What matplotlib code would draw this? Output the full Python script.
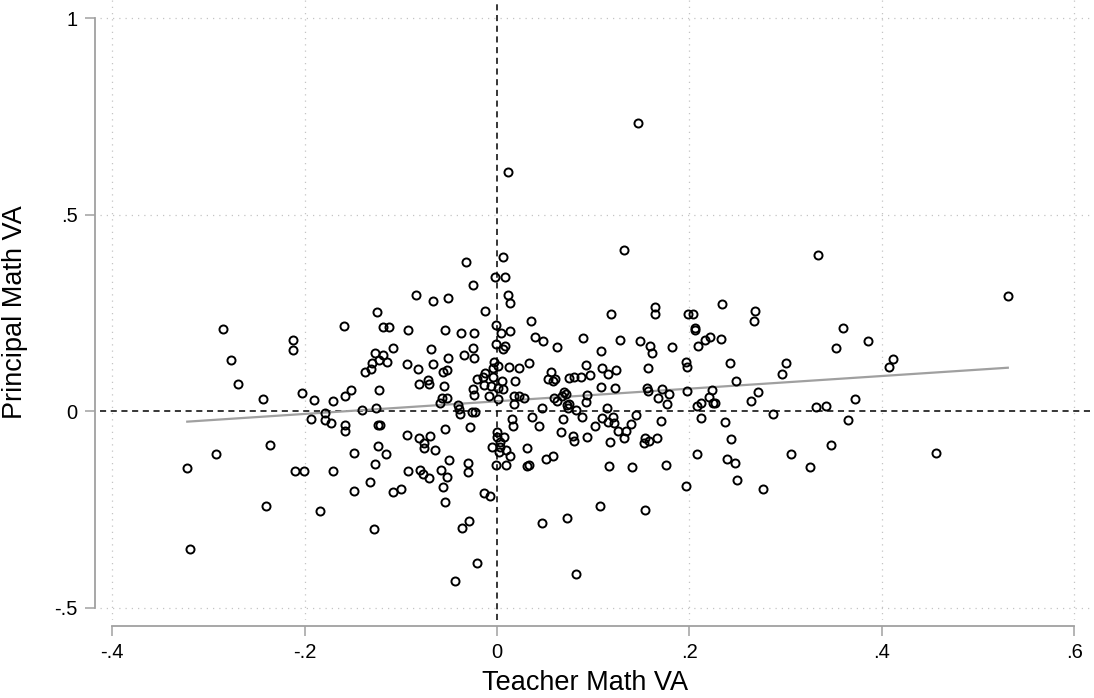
import matplotlib.pyplot as plt
import numpy as np

plt.rcParams.update({
    "font.family": ["Liberation Sans", "DejaVu Sans"],
    "font.size": 14,
})

# teacher math VA (x) and principal math VA (y)
teacher_va = [
    -0.285, -0.277, -0.269, -0.243, -0.2125, -0.2125, -0.203, -0.190, -0.193, -0.179,
    -0.179, -0.173, -0.170, -0.159, -0.158, -0.152, -0.158, -0.140, -0.137, -0.131,
    -0.130, -0.127, -0.125, -0.123, -0.118, -0.118, -0.1125, -0.114, -0.108, -0.123,
    -0.126, -0.124, -0.122, -0.094, -0.092, -0.158, -0.094, -0.236, -0.292, -0.322,
    -0.210, -0.201, -0.170, -0.149, -0.124, -0.115, -0.127, -0.132, -0.149, -0.108,
    -0.100, -0.092, -0.240, -0.184, -0.128, -0.319, 0.147, 0.011, -0.032, 0.006,
    0.132, -0.002, 0.008, -0.025, -0.084, -0.067, -0.051, 0.011, 0.013, -0.012,
    0.119, 0.035, -0.001, -0.054, -0.0375, -0.024, 0.004, 0.014, 0.040, 0.048,
    0.062, 0.089, 0.128, 0.149, -0.069, -0.025, -0.001, 0.008, 0.006, 0.108,
    -0.082, -0.067, -0.051, -0.034, -0.024, -0.003, 0.001, 0.012, 0.023, 0.033,
    -0.056, -0.052, -0.072, -0.081, -0.071, -0.055, -0.021, -0.015, -0.012, -0.004,
    -0.004, 0.005, -0.013, -0.006, 0.001, 0.006, 0.019, -0.025, -0.024, -0.008,
    0.001, 0.018, 0.023, 0.028, 0.018, -0.057, -0.052, -0.059, -0.041, -0.039,
    -0.038, -0.026, -0.023, 0.056, 0.053, 0.058, 0.060, 0.075, 0.080, 0.087,
    0.097, 0.092, 0.109, 0.124, 0.115, 0.108, 0.123, 0.070, 0.072, 0.068,
    0.059, 0.0625, 0.073, 0.075, 0.074, 0.082, 0.094, 0.092, 0.114, 0.047,
    0.036, 0.016, 0.069, 0.088, 0.109, 0.121, 0.145, -0.081, -0.070, -0.076,
    -0.076, -0.064, -0.054, -0.028, -0.050, -0.030, -0.030, -0.080, -0.077, -0.071,
    -0.058, -0.052, -0.056, -0.054, -0.014, -0.007, -0.029, -0.036, -0.021, -0.044,
    -0.000, 0.000, 0.007, 0.003, -0.005, 0.003, 0.002, 0.009, 0.013, -0.001,
    0.009, 0.017, 0.044, 0.031, 0.031, 0.033, 0.051, 0.058, 0.067, 0.079,
    0.080, 0.094, 0.102, 0.115, 0.122, 0.126, 0.134, 0.132, 0.139, 0.117,
    0.116, 0.140, 0.107, 0.073, 0.047, 0.082, 0.334, 0.234, 0.164, 0.164,
    0.199, 0.204, 0.206, 0.206, 0.268, 0.267, 0.360, 0.352, 0.386, 0.159,
    0.161, 0.182, 0.209, 0.216, 0.221, 0.233, 0.157, 0.196, 0.197, 0.242,
    0.248, 0.296, 0.300, 0.156, 0.157, 0.167, 0.172, 0.179, 0.177, 0.198,
    0.223, 0.220, 0.208, 0.212, 0.225, 0.227, 0.271, 0.264, 0.287, 0.332,
    0.342, 0.372, 0.170, 0.2125, 0.2375, 0.365, 0.154, 0.153, 0.158, 0.166,
    0.176, 0.196, 0.154, 0.208, 0.243, 0.239, 0.247, 0.250, 0.277, 0.306,
    0.325, 0.347, 0.531, 0.412, 0.407, 0.456,
]
principal_va = [
    0.208, 0.130, 0.068, 0.030, 0.181, 0.155, 0.046, 0.028, -0.021, -0.006,
    -0.023, -0.031, 0.026, 0.217, 0.037, 0.053, -0.036, 0.003, 0.099, 0.106,
    0.123, 0.148, 0.252, 0.130, 0.142, 0.213, 0.215, 0.125, 0.160, 0.053,
    0.008, -0.036, -0.036, 0.120, 0.205, -0.050, -0.061, -0.087, -0.109, -0.146,
    -0.153, -0.153, -0.153, -0.107, -0.088, -0.109, -0.135, -0.180, -0.203, -0.207,
    -0.198, -0.152, -0.241, -0.255, -0.300, -0.351, 0.734, 0.609, 0.378, 0.393,
    0.410, 0.342, 0.342, 0.320, 0.294, 0.281, 0.288, 0.294, 0.276, 0.254,
    0.248, 0.229, 0.220, 0.205, 0.199, 0.199, 0.198, 0.203, 0.189, 0.178,
    0.164, 0.187, 0.181, 0.178, 0.157, 0.160, 0.170, 0.165, 0.157, 0.153,
    0.106, 0.120, 0.136, 0.143, 0.134, 0.125, 0.115, 0.113, 0.110, 0.123,
    0.100, 0.104, 0.080, 0.069, 0.069, 0.064, 0.081, 0.087, 0.098, 0.109,
    0.086, 0.076, 0.066, 0.063, 0.058, 0.057, 0.076, 0.057, 0.041, 0.038,
    0.030, 0.037, 0.037, 0.034, 0.018, 0.034, 0.034, 0.021, 0.015, 0.004,
    -0.008, -0.003, -0.003, 0.099, 0.082, 0.076, 0.081, 0.083, 0.087, 0.087,
    0.092, 0.118, 0.110, 0.105, 0.093, 0.060, 0.059, 0.049, 0.043, 0.038,
    0.033, 0.025, 0.016, 0.018, 0.007, 0.002, 0.041, 0.024, 0.008, 0.007,
    -0.015, -0.021, -0.021, -0.015, -0.018, -0.016, -0.011, -0.069, -0.064, -0.082,
    -0.094, -0.100, -0.047, -0.041, -0.124, -0.131, -0.156, -0.151, -0.160, -0.170,
    -0.150, -0.168, -0.193, -0.231, -0.208, -0.217, -0.281, -0.297, -0.387, -0.432,
    -0.053, -0.067, -0.065, -0.078, -0.092, -0.091, -0.104, -0.100, -0.114, -0.138,
    -0.137, -0.037, -0.038, -0.095, -0.139, -0.137, -0.123, -0.114, -0.053, -0.063,
    -0.076, -0.067, -0.038, -0.029, -0.031, -0.052, -0.051, -0.069, -0.032, -0.078,
    -0.139, -0.143, -0.242, -0.271, -0.285, -0.414, 0.397, 0.273, 0.265, 0.246,
    0.246, 0.247, 0.212, 0.206, 0.254, 0.230, 0.211, 0.160, 0.179, 0.165,
    0.148, 0.162, 0.166, 0.181, 0.188, 0.182, 0.109, 0.125, 0.112, 0.121,
    0.077, 0.095, 0.122, 0.058, 0.051, 0.032, 0.056, 0.044, 0.019, 0.050,
    0.054, 0.036, 0.013, 0.020, 0.021, 0.020, 0.048, 0.025, -0.007, 0.011,
    0.013, 0.031, -0.025, -0.017, -0.027, -0.023, -0.069, -0.081, -0.076, -0.068,
    -0.138, -0.192, -0.253, -0.109, -0.071, -0.123, -0.131, -0.176, -0.198, -0.109,
    -0.142, -0.087, 0.293, 0.132, 0.112, -0.108,
]

x_ticks = [-0.4, -0.2, 0, 0.2, 0.4, 0.6]
x_tick_labels = ["-.4", "-.2", "0", ".2", ".4", ".6"]
y_ticks = [-0.5, 0, 0.5, 1]
y_tick_labels = ["-.5", "0", ".5", "1"]

x = np.array(teacher_va)
y = np.array(principal_va)

fig = plt.figure(figsize=(10.94, 6.98), dpi=100)
ax = fig.add_axes([0.0914, 0.1117, 0.9086, 0.8883])

ax.set_xlim(-0.4127, 0.6206)
ax.set_ylim(-0.5318, 1.0458)

# dotted grid
for gx in x_ticks:
    if gx != 0:
        ax.axvline(gx, color='#c4c4c4', lw=0.9, ls=(0, (1, 4)), zorder=0)
for gy in y_ticks:
    if gy != 0:
        ax.axhline(gy, color='#c4c4c4', lw=0.9, ls=(0, (1, 4)), zorder=0)

# reference lines at zero
ax.axvline(0, color='black', lw=1.1, ls=(0, (4, 3)), zorder=1)
ax.axhline(0, color='black', lw=1.1, ls=(0, (4, 3)), zorder=1)

# linear fit
slope, intercept = np.polyfit(x, y, 1)
xf = np.array([x.min(), x.max()])
ax.plot(xf, intercept + slope * xf, color='#a0a0a0', lw=1.6, zorder=2)

ax.plot(x, y, 'o', mfc='none', mec='black', ms=5.8, mew=1.4, zorder=3)

for s in ['top', 'right']:
    ax.spines[s].set_visible(False)
ax.spines['left'].set_position(('outward', 3.6))
ax.spines['bottom'].set_position(('outward', 4.1))
ax.spines['left'].set_bounds(-0.5, 1)
ax.spines['bottom'].set_bounds(-0.4, 0.6)
for s in ['left', 'bottom']:
    ax.spines[s].set_color('#a0a0a0')
    ax.spines[s].set_linewidth(1.3)

ax.set_xticks(x_ticks, x_tick_labels)
ax.set_yticks(y_ticks, y_tick_labels)
ax.tick_params(length=7.5, width=1.1, color='#a0a0a0', labelsize=14.5, pad=5)

ax.set_xlabel("Teacher Math VA", fontsize=19.5, va='center')
ax.set_ylabel("Principal Math VA", fontsize=19.5, va='center')
ax.xaxis.set_label_coords(0.488, -0.1015)
ax.yaxis.set_label_coords(-0.0855, 0.4968)

plt.savefig("out.png", dpi=100)
